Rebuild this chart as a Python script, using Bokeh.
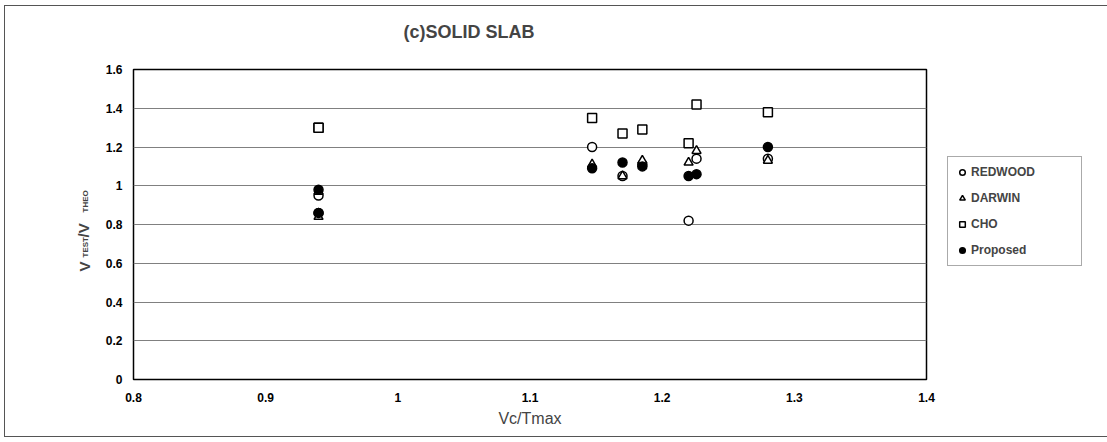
import math
from bokeh.plotting import figure
from bokeh.layouts import column
from bokeh.models import Legend, LegendItem, Label, Title, FixedTicker, Range1d
from bokeh.embed import file_html
from bokeh.resources import INLINE

# ---- data ----
vc_tmax = [0.94, 0.94, 1.147, 1.17, 1.185, 1.22, 1.226, 1.28]
redwood = [0.95, 0.86, 1.20, 1.05, 1.11, 0.82, 1.14, 1.14]
darwin = [0.84, 0.97, 1.11, 1.05, 1.13, 1.12, 1.18, 1.13]
cho = [1.30, 1.30, 1.35, 1.27, 1.29, 1.22, 1.42, 1.38]
proposed = [0.98, 0.86, 1.09, 1.12, 1.10, 1.05, 1.06, 1.20]

x_ticks = [0.8, 0.9, 1.0, 1.1, 1.2, 1.3, 1.4]
y_ticks = [0, 0.2, 0.4, 0.6, 0.8, 1.0, 1.2, 1.4, 1.6]
x_tick_labels = {0.8: "0.8", 0.9: "0.9", 1.0: "1", 1.1: "1.1", 1.2: "1.2", 1.3: "1.3", 1.4: "1.4"}
y_tick_labels = {0: "0", 0.2: "0.2", 0.4: "0.4", 0.6: "0.6", 0.8: "0.8", 1.0: "1",
                 1.2: "1.2", 1.4: "1.4", 1.6: "1.6"}

FONT = "Liberation Sans"
OX, OY = 5, 6                     # figure offset inside the bordered box
W, H = 1090, 430
PL, PR, PT, PB = 133, 926, 69, 379          # frame edges, page pixels
FL, FR, FT, FB = PL - OX, PR - OX, PT - OY, PB - OY   # frame edges, figure pixels

p = figure(width=W, height=H, frame_width=PR - PL, frame_height=PB - PT,
           output_backend="svg", toolbar_location=None,
           x_range=Range1d(0.8, 1.4), y_range=Range1d(0, 1.6),
           min_border_left=FL, min_border_right=W - FR,
           min_border_top=FT, min_border_bottom=H - FB)
p.background_fill_color = "white"
p.border_fill_color = "white"
p.outline_line_color = "black"
p.outline_line_width = 1.5

p.xaxis.ticker = FixedTicker(ticks=x_ticks)
p.yaxis.ticker = FixedTicker(ticks=y_ticks)
p.xaxis.major_label_overrides = x_tick_labels
p.yaxis.major_label_overrides = y_tick_labels
for ax in (p.xaxis, p.yaxis):
    ax.axis_line_color = None
    ax.major_tick_line_color = None
    ax.minor_tick_line_color = None
    ax.major_tick_in = 0
    ax.major_tick_out = 0
    ax.minor_tick_in = 0
    ax.minor_tick_out = 0
    ax.major_label_text_font = FONT
    ax.major_label_text_font_style = "bold"
    ax.major_label_text_font_size = "12px"
    ax.major_label_text_color = "black"
p.xaxis.major_label_standoff = 13
p.yaxis.major_label_standoff = 11
p.xaxis.axis_label = "Vc/Tmax"
p.xaxis.axis_label_text_font = FONT
p.xaxis.axis_label_text_font_style = "normal"
p.xaxis.axis_label_text_font_size = "16px"
p.xaxis.axis_label_standoff = 5

p.xgrid.grid_line_color = None
p.ygrid.grid_line_color = "#808080"
p.ygrid.grid_line_width = 1

kw = dict(size=9, line_color="black", line_width=1.5)
r_red = p.scatter(vc_tmax, redwood, marker="circle", fill_color="white", **kw)
r_dar = p.scatter(vc_tmax, darwin, marker="triangle", fill_color="white", **kw)
r_cho = p.scatter(vc_tmax, cho, marker="square", fill_color="white", **kw)
r_pro = p.scatter(vc_tmax, proposed, marker="circle", fill_color="black", **kw)

legend = Legend(items=[
    LegendItem(label="REDWOOD", renderers=[r_red]),
    LegendItem(label="DARWIN", renderers=[r_dar]),
    LegendItem(label="CHO", renderers=[r_cho]),
    LegendItem(label="Proposed", renderers=[r_pro]),
], location=(947 - PR, PB - 266))
legend.label_text_font = FONT
legend.label_text_font_style = "bold"
legend.label_text_font_size = "12px"
legend.glyph_width = 14
legend.glyph_height = 16
legend.label_height = 16
legend.label_width = 103
legend.label_standoff = 2
legend.spacing = 10
legend.padding = 7
legend.margin = 0
legend.border_line_color = "#555555"
legend.border_line_width = 1
p.add_layout(legend, "right")

# title: a small spacer title next to the frame, then the real title above it
p.add_layout(Title(text=" ", text_font_size="2px", standoff=24), "above")
p.add_layout(Title(text="(c)SOLID SLAB", text_font=FONT, text_font_style="bold",
                   text_font_size="18px", align="left", offset=403 - PL,
                   vertical_align="bottom", standoff=0), "above")

# y-axis label pieces in the left panel (each gets its own slot)
def ylab(text, y, size, x):
    p.add_layout(Label(x=x, y=y, x_units="screen", y_units="screen",
                       text=text, text_font=FONT, text_font_style="bold",
                       text_font_size=size, angle=math.pi / 2,
                       text_align="left", text_baseline="alphabetic"), "left")
ylab("V", PB - 271, "15px", -1.5)
ylab("TEST", PB - 257, "8px", 8.9)
ylab("/V", PB - 237, "15px", 24.2)
ylab("THEO", PB - 212, "8px", 34.6)

layout = column(p, margin=(OY - 1, 0, 0, OX - 1),
                styles={"border": "1px solid #555555"})

open("out.html", "w").write(file_html(layout, INLINE))
